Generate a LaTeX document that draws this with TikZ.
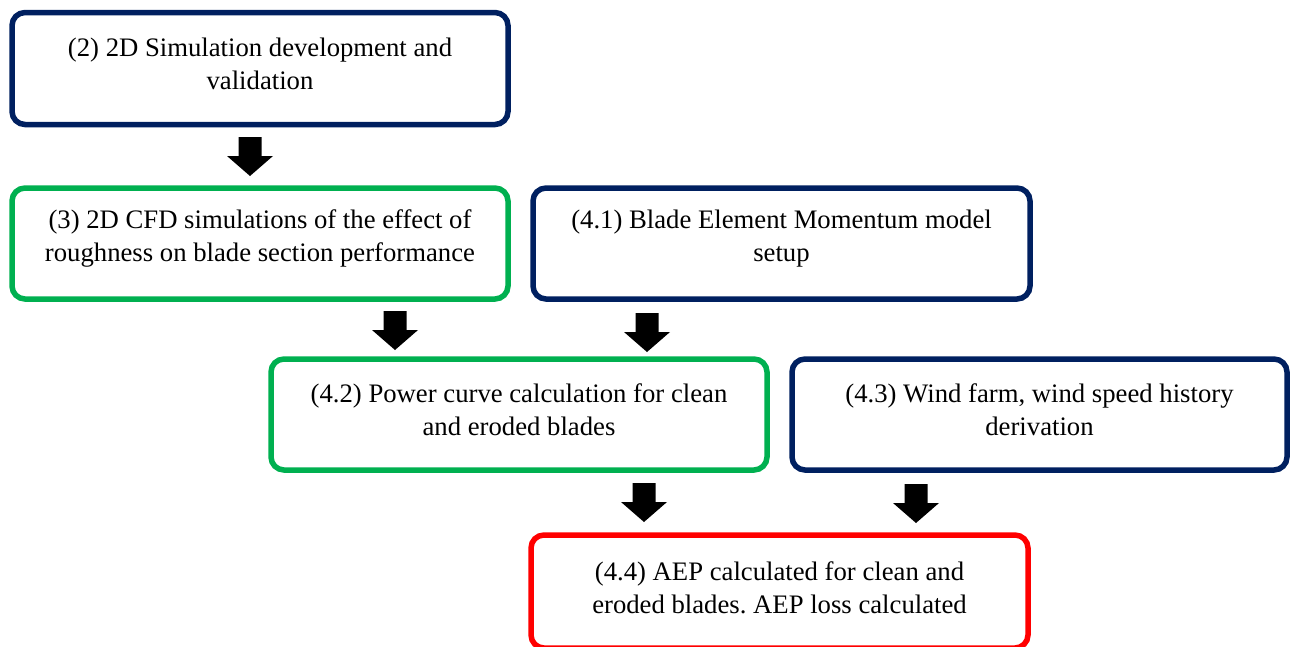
\documentclass[tikz,border=0pt]{standalone}
\usepackage{fontspec}
\setmainfont{Liberation Serif}
\definecolor{navy}{HTML}{002060}
\definecolor{okgreen}{HTML}{00B050}
\definecolor{alertred}{HTML}{FF0000}
\frenchspacing
\begin{document}
\begin{tikzpicture}[x=1pt,y=-1pt,
  box/.style={draw,line width=5.5pt,rounded corners=13pt,minimum height=112pt,inner sep=0pt,fill=white},
  navybox/.style={box,draw=navy},
  greenbox/.style={box,draw=okgreen},
  redbox/.style={box,draw=alertred},
  txt/.style={align=center,inner sep=0pt,font=\fontsize{26.7}{33}\selectfont},
  barrow/.pic={\fill[black] (-11.5,0) -- (11.5,0) -- (11.5,19) -- (23,19) -- (0,39) -- (-23,19) -- (-11.5,19) -- cycle;}
]
\useasboundingbox (0,0) rectangle (1290,646);
\clip (0,0) rectangle (1290,646);
% boxes
\node[navybox,minimum width=496pt] (A) at (260,68.5) {};
\node[greenbox,minimum width=496pt,minimum height=111pt] (B) at (260,243.5) {};
\node[navybox,minimum width=497pt,minimum height=111pt] (C) at (781.5,243.5) {};
\node[greenbox,minimum width=496pt,minimum height=111pt] (D) at (519,414.5) {};
\node[navybox,minimum width=495pt,minimum height=111pt] (E) at (1039.5,414.5) {};
\node[redbox,minimum width=497pt,minimum height=113pt] (F) at (779.5,591.5) {};
% texts
\node[txt] (tA) at ([yshift=5pt]A.center) {(2) 2D Simulation development and\\validation};
\node[txt] (tB) at ([yshift=5pt]B.center) {(3) 2D CFD simulations of the effect of\\roughness on blade section performance};
\node[txt] (tC) at ([yshift=5pt]C.center) {(4.1) Blade Element Momentum model\\setup};
\node[txt] (tD) at ([yshift=5pt]D.center) {(4.2) Power curve calculation for clean\\and eroded blades};
\node[txt] (tE) at ([yshift=5pt]E.center) {(4.3) Wind farm, wind speed history\\derivation};
\node[txt] (tF) at ([yshift=4pt]F.center) {(4.4) AEP calculated for clean and\\eroded blades. AEP loss calculated};
% block arrows
\coordinate (a1) at (250,137);
\coordinate (a2) at (395,311);
\coordinate (a3) at (647,313);
\coordinate (a4) at (644,483);
\coordinate (a5) at (916,484);
\pic at (a1) {barrow};
\pic at (a2) {barrow};
\pic at (a3) {barrow};
\pic at (a4) {barrow};
\pic at (a5) {barrow};
\end{tikzpicture}
\end{document}
